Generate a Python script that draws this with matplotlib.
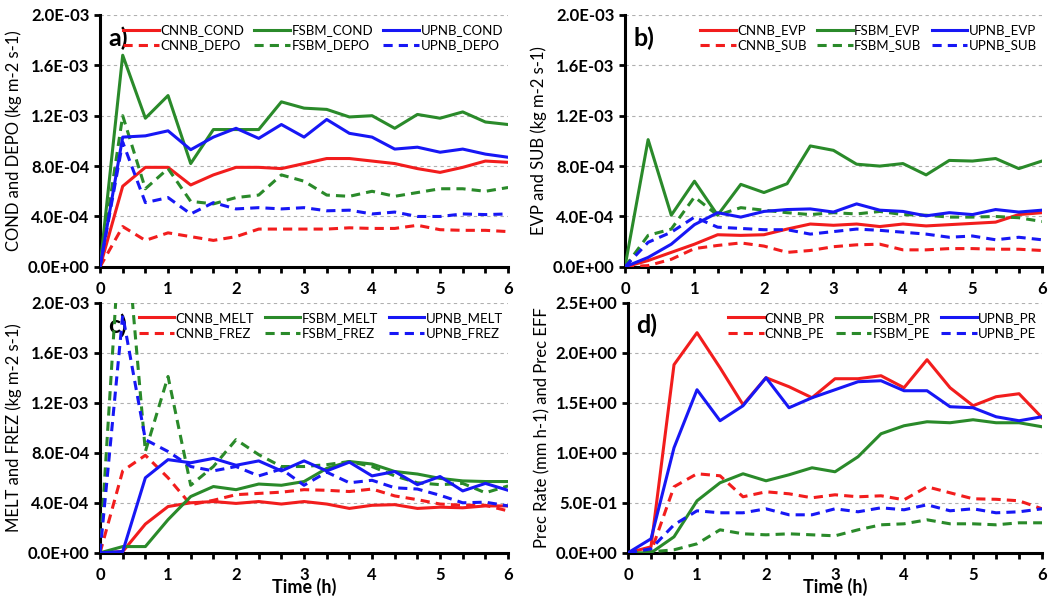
import numpy as np
import matplotlib
matplotlib.use("Agg")
import matplotlib.pyplot as plt
from matplotlib.ticker import FuncFormatter, MultipleLocator

plt.rcParams['font.family'] = ['Lato', 'DejaVu Sans']

# time axis, every 20 minutes
time_h = np.arange(19) / 3.0

# panel a
cnnb_cond = [0, 6.4e-4, 7.9e-4, 7.9e-4, 6.5e-4, 7.3e-4, 7.9e-4, 7.9e-4, 7.8e-4, 8.2e-4,
             8.6e-4, 8.6e-4, 8.4e-4, 8.2e-4, 7.8e-4, 7.5e-4, 7.9e-4, 8.4e-4, 8.3e-4]
fsbm_cond = [0, 1.68e-3, 1.18e-3, 1.36e-3, 8.2e-4, 1.09e-3, 1.09e-3, 1.09e-3, 1.31e-3, 1.26e-3,
             1.25e-3, 1.19e-3, 1.2e-3, 1.1e-3, 1.21e-3, 1.18e-3, 1.23e-3, 1.15e-3, 1.13e-3]
upnb_cond = [0, 1.03e-3, 1.04e-3, 1.08e-3, 9.3e-4, 1.03e-3, 1.1e-3, 1.02e-3, 1.13e-3, 1.03e-3,
             1.17e-3, 1.06e-3, 1.03e-3, 9.35e-4, 9.5e-4, 9.1e-4, 9.35e-4, 8.95e-4, 8.7e-4]
cnnb_depo = [0, 3.2e-4, 2.1e-4, 2.7e-4, 2.4e-4, 2.1e-4, 2.4e-4, 3.0e-4, 3.0e-4, 3.0e-4,
             3.0e-4, 3.1e-4, 3.05e-4, 3.05e-4, 3.3e-4, 2.95e-4, 2.9e-4, 2.9e-4, 2.8e-4]
fsbm_depo = [0, 1.2e-3, 6.2e-4, 7.8e-4, 5.2e-4, 5.0e-4, 5.5e-4, 5.7e-4, 7.3e-4, 6.8e-4,
             5.7e-4, 5.6e-4, 6.0e-4, 5.6e-4, 5.9e-4, 6.2e-4, 6.2e-4, 6.0e-4, 6.3e-4]
upnb_depo = [0, 9.9e-4, 5.1e-4, 5.5e-4, 4.2e-4, 5.1e-4, 4.6e-4, 4.7e-4, 4.6e-4, 4.7e-4,
             4.45e-4, 4.5e-4, 4.2e-4, 4.35e-4, 4.0e-4, 4.0e-4, 4.2e-4, 4.15e-4, 4.2e-4]

# panel b
cnnb_evp = [0, 5e-5, 1.15e-4, 1.8e-4, 2.55e-4, 2.5e-4, 2.55e-4, 3.0e-4, 3.4e-4, 3.3e-4,
            3.4e-4, 3.2e-4, 3.4e-4, 3.25e-4, 3.35e-4, 3.45e-4, 3.55e-4, 4.15e-4, 4.3e-4]
fsbm_evp = [0, 1.01e-3, 4.1e-4, 6.8e-4, 4.1e-4, 6.55e-4, 5.9e-4, 6.6e-4, 9.6e-4, 9.25e-4,
            8.15e-4, 8.0e-4, 8.2e-4, 7.3e-4, 8.45e-4, 8.4e-4, 8.6e-4, 7.8e-4, 8.4e-4]
upnb_evp = [0, 7.5e-5, 1.8e-4, 3.35e-4, 4.3e-4, 3.95e-4, 4.4e-4, 4.55e-4, 4.6e-4, 4.35e-4,
            5.0e-4, 4.5e-4, 4.4e-4, 4.05e-4, 4.3e-4, 4.15e-4, 4.55e-4, 4.35e-4, 4.5e-4]
cnnb_sub = [0, 1e-5, 6e-5, 1.45e-4, 1.7e-4, 1.9e-4, 1.65e-4, 1.15e-4, 1.3e-4, 1.6e-4,
            1.75e-4, 1.8e-4, 1.35e-4, 1.35e-4, 1.45e-4, 1.45e-4, 1.4e-4, 1.4e-4, 1.3e-4]
fsbm_sub = [0, 2.5e-4, 3.0e-4, 5.55e-4, 4.1e-4, 4.7e-4, 4.5e-4, 4.3e-4, 4.15e-4, 4.3e-4,
            4.2e-4, 4.4e-4, 4.15e-4, 4.1e-4, 3.95e-4, 3.95e-4, 4.0e-4, 3.9e-4, 3.6e-4]
upnb_sub = [0, 1.95e-4, 2.75e-4, 3.95e-4, 3.15e-4, 3.05e-4, 2.95e-4, 2.95e-4, 2.6e-4, 2.8e-4,
            3.0e-4, 2.9e-4, 2.75e-4, 2.6e-4, 2.35e-4, 2.45e-4, 2.15e-4, 2.35e-4, 2.15e-4]

# panel c
cnnb_melt = [0, 1e-5, 2.3e-4, 3.7e-4, 4.0e-4, 4.1e-4, 3.95e-4, 4.1e-4, 3.9e-4, 4.1e-4,
             3.9e-4, 3.55e-4, 3.8e-4, 3.85e-4, 3.55e-4, 3.65e-4, 3.6e-4, 3.75e-4, 3.75e-4]
fsbm_melt = [0, 5e-5, 5e-5, 2.65e-4, 4.5e-4, 5.3e-4, 5.05e-4, 5.5e-4, 5.4e-4, 5.7e-4,
             6.75e-4, 7.3e-4, 7.1e-4, 6.5e-4, 6.3e-4, 5.95e-4, 5.75e-4, 5.7e-4, 5.7e-4]
upnb_melt = [0, 1e-5, 6.0e-4, 7.45e-4, 7.2e-4, 7.55e-4, 7.0e-4, 7.35e-4, 6.55e-4, 7.35e-4,
             6.55e-4, 7.25e-4, 6.15e-4, 6.5e-4, 5.45e-4, 6.1e-4, 4.95e-4, 5.55e-4, 5.0e-4]
cnnb_frez = [0, 6.55e-4, 7.8e-4, 6.0e-4, 3.85e-4, 4.2e-4, 4.65e-4, 4.75e-4, 4.85e-4, 5.05e-4,
             5.0e-4, 4.9e-4, 5.1e-4, 4.55e-4, 4.25e-4, 3.9e-4, 3.8e-4, 3.8e-4, 3.35e-4]
fsbm_frez = [0, 2.9e-3, 8.1e-4, 1.41e-3, 5.4e-4, 6.9e-4, 9.05e-4, 7.85e-4, 6.9e-4, 6.9e-4,
             7.05e-4, 7.3e-4, 6.9e-4, 6.15e-4, 5.6e-4, 5.45e-4, 5.55e-4, 4.8e-4, 5.35e-4]
upnb_frez = [0, 1.9e-3, 9.05e-4, 8.1e-4, 6.9e-4, 6.55e-4, 6.9e-4, 6.15e-4, 6.7e-4, 5.4e-4,
             6.45e-4, 5.6e-4, 5.8e-4, 5.2e-4, 5.1e-4, 4.6e-4, 4.0e-4, 4.05e-4, 3.75e-4]

# panel d
cnnb_pr = [0, 0.06, 1.88, 2.2, 1.85, 1.48, 1.75, 1.66, 1.55, 1.74,
           1.74, 1.77, 1.65, 1.93, 1.65, 1.47, 1.56, 1.59, 1.35]
fsbm_pr = [0, 0.0, 0.16, 0.52, 0.7, 0.79, 0.72, 0.78, 0.85, 0.81,
           0.96, 1.19, 1.27, 1.31, 1.30, 1.33, 1.30, 1.30, 1.26]
upnb_pr = [0, 0.14, 1.05, 1.63, 1.32, 1.47, 1.75, 1.45, 1.55, 1.63,
           1.71, 1.72, 1.62, 1.62, 1.46, 1.45, 1.36, 1.32, 1.36]
cnnb_pe = [0, 0.01, 0.66, 0.79, 0.77, 0.56, 0.61, 0.59, 0.55, 0.58,
           0.56, 0.57, 0.53, 0.66, 0.6, 0.54, 0.535, 0.52, 0.44]
fsbm_pe = [0, 0.01, 0.03, 0.09, 0.23, 0.19, 0.18, 0.19, 0.18, 0.17,
           0.23, 0.28, 0.29, 0.33, 0.29, 0.29, 0.28, 0.30, 0.30]
upnb_pe = [0, 0.04, 0.28, 0.42, 0.40, 0.40, 0.44, 0.38, 0.38, 0.44,
           0.41, 0.45, 0.43, 0.48, 0.42, 0.44, 0.40, 0.41, 0.44]

RED = '#f21d1d'
GREEN = '#2a8a2a'
BLUE = '#1717f5'


def sci(v, pos):
    return f"{v:.1E}"


def draw_panel(ax, series, names, ymax, ystep, ylabel, tag, show_xlabel):
    colors = [RED, RED, GREEN, GREEN, BLUE, BLUE]
    styles = ['-', '--'] * 3
    for data, name, c, ls in zip(series, names, colors, styles):
        line, = ax.plot(time_h, data, color=c, ls=ls, lw=2.2, label=name, zorder=3)
        if ls == '--':
            line.set_dashes((3, 2))
    ax.set_xlim(0, 6)
    ax.set_ylim(0, ymax)
    ax.yaxis.set_major_locator(MultipleLocator(ystep))
    ax.yaxis.set_major_formatter(FuncFormatter(sci))
    ax.xaxis.set_major_locator(MultipleLocator(1))
    ax.xaxis.set_minor_locator(MultipleLocator(1 / 3))
    ax.grid(axis='y', color='#b0b0b0', ls=(0, (3, 3)), lw=0.8)
    ax.set_axisbelow(True)
    for s in ['top', 'right']:
        ax.spines[s].set_visible(False)
    for s in ['left', 'bottom']:
        ax.spines[s].set_linewidth(2.2)
    ax.tick_params(axis='both', which='both', direction='out', width=2, length=4,
                   labelsize=12)
    ax.tick_params(axis='x', which='major', pad=6)
    for lbl in ax.get_xticklabels() + ax.get_yticklabels():
        lbl.set_fontweight('bold')
    ax.set_ylabel(ylabel, fontsize=12, labelpad=4)
    if show_xlabel:
        ax.set_xlabel('Time (h)', fontsize=13, fontweight='bold')
        ax.xaxis.set_label_coords(0.5, -0.1)
    ax.text(0.02, 0.955, tag, transform=ax.transAxes, fontsize=18,
            fontweight='bold', va='top', ha='left', zorder=1)
    ax.legend(ncol=3, loc='upper right', bbox_to_anchor=(1.01, 1.0), frameon=False,
              fontsize=9.5, handlelength=2.7, columnspacing=0.8, labelspacing=0.25,
              handletextpad=0.1, borderaxespad=0.3)


fig = plt.figure(figsize=(10.53, 5.97), dpi=100)
ax_a = fig.add_axes([0.095, 0.553, 0.3875, 0.422])
ax_b = fig.add_axes([0.5935, 0.553, 0.396, 0.422])
ax_c = fig.add_axes([0.095, 0.074, 0.3875, 0.419])
ax_d = fig.add_axes([0.5964, 0.074, 0.3932, 0.419])

draw_panel(ax_a, [cnnb_cond, cnnb_depo, fsbm_cond, fsbm_depo, upnb_cond, upnb_depo],
           ['CNNB_COND', 'CNNB_DEPO', 'FSBM_COND', 'FSBM_DEPO', 'UPNB_COND', 'UPNB_DEPO'],
           2.0e-3, 4e-4, 'COND and DEPO (kg m-2 s-1)', 'a)', False)
draw_panel(ax_b, [cnnb_evp, cnnb_sub, fsbm_evp, fsbm_sub, upnb_evp, upnb_sub],
           ['CNNB_EVP', 'CNNB_SUB', 'FSBM_EVP', 'FSBM_SUB', 'UPNB_EVP', 'UPNB_SUB'],
           2.0e-3, 4e-4, 'EVP and SUB (kg m-2 s-1)', 'b)', False)
draw_panel(ax_c, [cnnb_melt, cnnb_frez, fsbm_melt, fsbm_frez, upnb_melt, upnb_frez],
           ['CNNB_MELT', 'CNNB_FREZ', 'FSBM_MELT', 'FSBM_FREZ', 'UPNB_MELT', 'UPNB_FREZ'],
           2.0e-3, 4e-4, 'MELT and FREZ (kg m-2 s-1)', 'c)', True)
draw_panel(ax_d, [cnnb_pr, cnnb_pe, fsbm_pr, fsbm_pe, upnb_pr, upnb_pe],
           ['CNNB_PR', 'CNNB_PE', 'FSBM_PR', 'FSBM_PE', 'UPNB_PR', 'UPNB_PE'],
           2.5, 0.5, 'Prec Rate (mm h-1) and Prec EFF', 'd)', True)

fig.savefig('out.png', dpi=100)
